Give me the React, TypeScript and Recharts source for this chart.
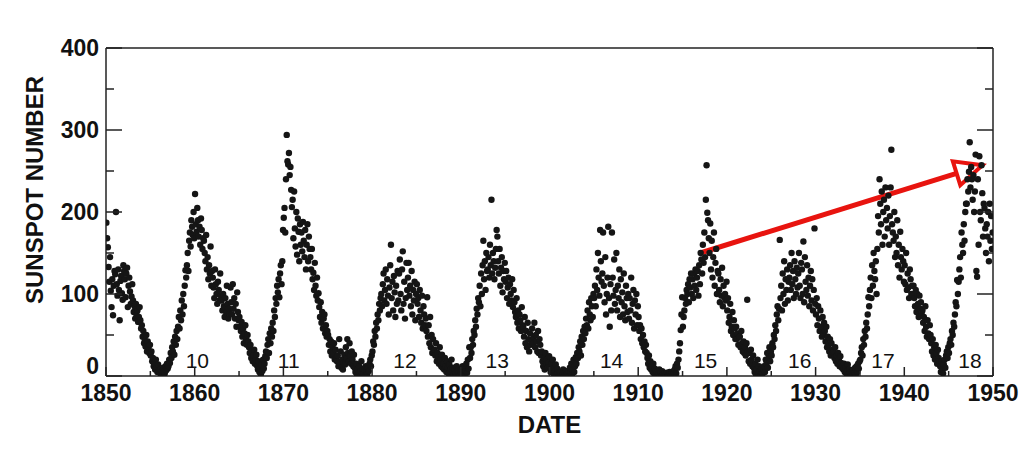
import React from 'react';
import { ScatterChart, Scatter, XAxis, YAxis, ReferenceLine } from 'recharts';

// Monthly sunspot numbers, one array per decade (12 values per year)
const ssn1850s = [
  187, 168, 157, 133, 115, 145, 104, 84, 118, 74, 110, 128,
  124, 200, 112, 98, 130, 105, 68, 116, 122, 101, 93, 135,
  128, 118, 96, 125, 132, 84, 110, 120, 103, 88, 97, 112,
  92, 78, 85, 70, 88, 74, 80, 66, 72, 84, 68, 58,
  62, 48, 55, 40, 44, 36, 50, 30, 42, 35, 28, 38,
  25, 30, 18, 22, 12, 15, 8, 20, 10, 5, 14, 6,
  4, 8, 2, 6, 0, 10, 5, 3, 12, 7, 15, 9,
  12, 20, 16, 28, 22, 35, 30, 42, 26, 48, 38, 55,
  45, 60, 72, 58, 80, 68, 92, 75, 100, 85, 110, 129,
  120, 135, 150, 128, 165, 175, 158, 190, 182, 172, 200, 168,
];
const ssn1860s = [
  222, 185, 176, 205, 190, 170, 182, 160, 192, 178, 155, 168,
  165, 150, 140, 172, 130, 145, 118, 135, 125, 158, 110, 128,
  120, 108, 95, 130, 112, 100, 88, 115, 105, 92, 125, 98,
  92, 80, 100, 85, 72, 95, 78, 110, 88, 70, 82, 76,
  108, 90, 75, 112, 82, 95, 70, 88, 60, 102, 78, 68,
  72, 60, 55, 66, 48, 58, 40, 52, 62, 45, 38, 50,
  42, 35, 28, 38, 22, 30, 18, 25, 32, 15, 20, 26,
  12, 8, 18, 5, 10, 2, 14, 6, 20, 9, 15, 24,
  30, 22, 38, 45, 28, 52, 40, 58, 48, 65, 55, 80,
  72, 95, 88, 110, 102, 118, 96, 125, 135, 112, 140, 178,
];
const ssn1870s = [
  193, 205, 175, 240, 294, 262, 258, 272, 245, 255, 227, 206,
  215, 168, 225, 180, 158, 200, 148, 192, 176, 140, 185, 160,
  175, 152, 188, 165, 145, 178, 130, 160, 185, 140, 170, 155,
  145, 130, 155, 118, 126, 105, 138, 110, 98, 120, 92, 101,
  84, 72, 90, 65, 78, 58, 70, 75, 52, 62, 48, 55,
  50, 38, 45, 30, 42, 25, 35, 28, 40, 20, 32, 22,
  18, 25, 12, 45, 15, 30, 10, 20, 8, 16, 26, 14,
  35, 22, 45, 28, 18, 40, 25, 15, 30, 20, 12, 26,
  10, 5, 15, 2, 8, 0, 12, 4, 6, 18, 3, 9,
  3, 8, 0, 12, 5, 2, 10, 6, 15, 20, 12, 25,
];
const ssn1880s = [
  30, 42, 38, 55, 48, 65, 58, 75, 68, 88, 80, 95,
  100, 85, 112, 125, 92, 105, 130, 88, 118, 98, 75, 108,
  135, 160, 95, 115, 80, 122, 102, 72, 110, 88, 128, 92,
  125, 142, 100, 80, 130, 152, 88, 115, 70, 95, 138, 105,
  120, 138, 98, 110, 85, 128, 75, 105, 92, 115, 68, 100,
  112, 88, 95, 72, 105, 80, 65, 98, 58, 85, 75, 62,
  70, 55, 96, 48, 62, 40, 72, 35, 50, 28, 45, 30,
  32, 25, 40, 18, 28, 22, 15, 35, 20, 12, 26, 10,
  15, 8, 22, 12, 5, 18, 10, 3, 14, 6, 9, 20,
  5, 10, 2, 8, 0, 4, 12, 6, 3, 9, 1, 7,
];
const ssn1890s = [
  3, 8, 12, 5, 0, 10, 6, 15, 4, 20, 9, 35,
  22, 35, 28, 45, 38, 55, 50, 68, 60, 82, 75, 95,
  90, 110, 85, 125, 100, 135, 165, 118, 140, 105, 150, 128,
  130, 145, 120, 160, 135, 215, 125, 150, 140, 118, 132, 155,
  178, 170, 140, 125, 155, 110, 132, 145, 102, 128, 118, 138,
  115, 128, 95, 108, 120, 88, 112, 100, 92, 118, 84, 105,
  90, 78, 72, 95, 65, 80, 58, 75, 68, 55, 84, 62,
  60, 48, 72, 40, 55, 35, 65, 45, 30, 52, 38, 42,
  58, 40, 48, 65, 35, 50, 42, 30, 55, 28, 45, 38,
  25, 30, 18, 12, 22, 8, 28, 15, 20, 10, 16, 24,
];
const ssn1900s = [
  12, 5, 15, 8, 20, 3, 10, 6, 14, 2, 9, 4,
  0, 3, 1, 5, 0, 2, 8, 0, 4, 1, 6, 2,
  3, 6, 0, 10, 4, 15, 2, 8, 20, 5, 12, 23,
  15, 28, 22, 35, 30, 42, 25, 48, 38, 55, 45, 60,
  52, 70, 62, 80, 58, 90, 75, 68, 95, 85, 72, 100,
  95, 110, 85, 130, 105, 150, 120, 98, 178, 140, 115, 125,
  175, 110, 90, 145, 75, 100, 120, 182, 95, 60, 112, 80,
  175, 120, 98, 142, 88, 105, 150, 80, 110, 95, 130, 72,
  118, 90, 102, 75, 125, 85, 68, 110, 95, 78, 100, 70,
  95, 80, 120, 65, 88, 105, 58, 92, 75, 100, 62, 85,
];
const ssn1910s = [
  72, 55, 62, 45, 58, 40, 50, 35, 42, 30, 38, 28,
  22, 15, 25, 10, 18, 8, 12, 5, 15, 3, 9, 6,
  2, 5, 0, 3, 8, 1, 4, 0, 6, 2, 0, 3,
  0, 2, 4, 0, 1, 0, 5, 2, 0, 3, 1, 6,
  4, 8, 12, 3, 15, 10, 20, 30, 40, 56, 75, 96,
  60, 72, 80, 95, 88, 105, 100, 112, 90, 118, 108, 125,
  100, 118, 95, 125, 110, 130, 105, 120, 128, 98, 135, 112,
  150, 142, 125, 160, 138, 175, 145, 215, 257, 199, 190, 168,
  150, 186, 130, 165, 120, 145, 175, 110, 138, 155, 100, 128,
  125, 105, 90, 118, 98, 132, 85, 110, 96, 100, 92, 115,
];
const ssn1920s = [
  80, 95, 65, 72, 88, 55, 60, 78, 50, 68, 58, 45,
  60, 45, 52, 38, 48, 48, 35, 55, 40, 30, 42, 28,
  35, 25, 40, 93, 30, 18, 28, 15, 32, 20, 12, 25,
  10, 5, 15, 2, 8, 20, 3, 12, 6, 0, 9, 4,
  3, 8, 12, 5, 20, 15, 28, 10, 22, 35, 18, 30,
  25, 40, 35, 50, 45, 62, 55, 75, 85, 68, 82, 166,
  95, 110, 80, 125, 100, 140, 88, 118, 105, 130, 92, 115,
  120, 135, 105, 150, 112, 128, 95, 140, 118, 100, 132, 108,
  125, 150, 110, 95, 138, 130, 100, 164, 90, 145, 115, 105,
  135, 98, 120, 85, 110, 128, 92, 118, 80, 105, 180, 88,
];
const ssn1930s = [
  75, 95, 62, 85, 70, 55, 80, 60, 48, 72, 52, 65,
  55, 42, 60, 35, 48, 38, 30, 45, 25, 40, 32, 28,
  30, 22, 35, 18, 25, 15, 28, 20, 12, 24, 16, 10,
  12, 8, 15, 5, 10, 3, 6, 14, 2, 8, 4, 1,
  3, 6, 1, 8, 4, 10, 2, 12, 5, 15, 9, 18,
  20, 28, 35, 25, 45, 38, 55, 48, 65, 58, 75, 96,
  85, 105, 120, 95, 135, 110, 150, 128, 118, 140, 100, 155,
  195, 175, 240, 210, 185, 225, 160, 200, 215, 170, 230, 190,
  205, 180, 220, 160, 195, 230, 276, 185, 175, 165, 200, 145,
  170, 150, 190, 135, 160, 120, 176, 145, 130, 155, 140, 115,
];
const ssn1940s = [
  135, 112, 150, 105, 125, 108, 95, 130, 118, 100, 110, 98,
  110, 95, 85, 105, 78, 100, 88, 72, 98, 82, 90, 75,
  80, 65, 72, 55, 85, 60, 48, 68, 52, 45, 62, 50,
  40, 30, 45, 25, 35, 20, 38, 28, 15, 32, 22, 18,
  12, 5, 18, 8, 3, 14, 20, 10, 25, 30, 22, 35,
  28, 40, 45, 38, 55, 50, 65, 60, 75, 90, 85, 117,
  100, 115, 130, 145, 120, 175, 160, 150, 185, 165, 200, 210,
  210, 240, 225, 249, 285, 230, 255, 240, 215, 245, 200, 225,
  270, 128, 121, 240, 160, 268, 200, 190, 257, 223, 170, 210,
  205, 180, 150, 185, 170, 200, 140, 210, 165, 195, 155, 175,
];

const decadeStarts = [1850, 1860, 1870, 1880, 1890, 1900, 1910, 1920, 1930, 1940];
const decades = [ssn1850s, ssn1860s, ssn1870s, ssn1880s, ssn1890s, ssn1900s, ssn1910s, ssn1920s, ssn1930s, ssn1940s];

// Solar cycle numbers written along the bottom
const cycleNumbers = ['10', '11', '12', '13', '14', '15', '16', '17', '18'];
const cycleDates = [1860.3, 1870.6, 1883.7, 1894.1, 1907.0, 1917.6, 1928.2, 1937.6, 1947.4];
const cycleLabelLevel = 19;

const xTicks = [1850, 1855, 1860, 1865, 1870, 1875, 1880, 1885, 1890, 1895, 1900, 1905, 1910, 1915, 1920, 1925, 1930, 1935, 1940, 1945, 1950];
const yTicks = [0, 50, 100, 150, 200, 250, 300, 350, 400];

// red trend arrow (date, sunspot number)
const arrowFrom = { x: 1917.0, y: 150 };
const arrowTo = { x: 1948.8, y: 257 };

const points = decades.flatMap((arr, d) =>
  arr.map((v, i) => ({ date: decadeStarts[d] + (i + 0.5) / 12, ssn: v }))
);
const cycleData = cycleNumbers.map((label, i) => ({ date: cycleDates[i], ssn: cycleLabelLevel, label }));

const W = 1024;
const H = 468;
const PLOT_LEFT = 106;
const PLOT_RIGHT = 993;
const PLOT_TOP = 48;
const PLOT_BOTTOM = 376;
const AXIS = '#222';
const RED = '#e8140f';
const FONT = '"Liberation Sans", Arial, Helvetica, sans-serif';

function BottomTick(props: any) {
  const { x, payload } = props;
  const major = payload.value % 10 === 0;
  return (
    <g>
      <line x1={x} x2={x} y1={PLOT_BOTTOM} y2={PLOT_BOTTOM - (major ? 9 : 5)} stroke={AXIS} strokeWidth={1.5} />
      {major && (
        <text x={x} y={PLOT_BOTTOM + 25} textAnchor="middle" fontFamily={FONT} fontWeight="bold" fontSize={23} fill="#111">
          {payload.value}
        </text>
      )}
    </g>
  );
}

function TopTick(props: any) {
  const { x, payload } = props;
  const major = payload.value % 10 === 0;
  return <line x1={x} x2={x} y1={PLOT_TOP} y2={PLOT_TOP + (major ? 9 : 5)} stroke={AXIS} strokeWidth={1.5} />;
}

function LeftTick(props: any) {
  const { y, payload } = props;
  const major = payload.value % 100 === 0;
  // the zero label sits above its tick, clear of the date labels
  const lift = payload.value === 0 ? 10 : 0;
  return (
    <g>
      <line x1={PLOT_LEFT} x2={PLOT_LEFT + (major ? 16 : 8)} y1={y} y2={y} stroke={AXIS} strokeWidth={1.5} />
      {major && (
        <text x={PLOT_LEFT - 7} y={y + 8 - lift} textAnchor="end" fontFamily={FONT} fontWeight="bold" fontSize={23} fill="#111">
          {payload.value}
        </text>
      )}
    </g>
  );
}

function RightTick(props: any) {
  const { y, payload } = props;
  const major = payload.value % 100 === 0;
  return <line x1={PLOT_RIGHT} x2={PLOT_RIGHT - (major ? 16 : 8)} y1={y} y2={y} stroke={AXIS} strokeWidth={1.5} />;
}

function XTitle() {
  return (
    <text x={(PLOT_LEFT + PLOT_RIGHT) / 2} y={PLOT_BOTTOM + 57} textAnchor="middle" fontFamily={FONT} fontWeight="bold" fontSize={24} fill="#111">
      DATE
    </text>
  );
}

function YTitle() {
  return (
    <text x={43} y={190} transform="rotate(-90, 43, 190)" textAnchor="middle" fontFamily={FONT} fontWeight="bold" fontSize={24} fill="#111">
      SUNSPOT NUMBER
    </text>
  );
}

function Dot(props: any) {
  return <circle cx={props.cx} cy={props.cy} r={3.2} fill="#151515" />;
}

function CycleLabel(props: any) {
  return (
    <text x={props.cx} y={props.cy + 7.5} textAnchor="middle" fontFamily={FONT} fontSize={21} fill="#111">
      {props.payload.label}
    </text>
  );
}

function ArrowShape(props: any) {
  const { x1, y1, x2, y2 } = props;
  const dx = x2 - x1;
  const dy = y2 - y1;
  const len = Math.hypot(dx, dy) || 1;
  const ux = dx / len;
  const uy = dy / len;
  const headLen = 27;
  const half = 12.5;
  const bx = x2 - ux * headLen;
  const by = y2 - uy * headLen;
  const px = -uy;
  const py = ux;
  const pts = `${x2},${y2} ${bx + px * half},${by + py * half} ${bx - px * half},${by - py * half}`;
  return (
    <g>
      <line x1={x1} y1={y1} x2={bx} y2={by} stroke={RED} strokeWidth={5} />
      <polygon points={pts} fill="none" stroke={RED} strokeWidth={4} strokeLinejoin="miter" />
    </g>
  );
}

export default function App() {
  return (
    <div style={{ width: W, height: H, background: '#fff' }}>
      <style>{'body{margin:0;background:#fff}'}</style>
      <ScatterChart width={W} height={H} margin={{ top: 0, right: 0, bottom: 0, left: 0 }}>
        <XAxis
          dataKey="date"
          type="number"
          domain={[1850, 1950]}
          allowDataOverflow
          ticks={xTicks}
          interval={0}
          tick={BottomTick}
          tickLine={false}
          axisLine={{ stroke: AXIS, strokeWidth: 1.5 }}
          height={H - PLOT_BOTTOM}
          label={<XTitle />}
        />
        <XAxis
          xAxisId="top"
          orientation="top"
          type="number"
          domain={[1850, 1950]}
          allowDataOverflow
          ticks={xTicks}
          interval={0}
          tick={TopTick}
          tickLine={false}
          axisLine={{ stroke: AXIS, strokeWidth: 1.5 }}
          height={PLOT_TOP}
        />
        <YAxis
          dataKey="ssn"
          type="number"
          domain={[0, 400]}
          allowDataOverflow
          ticks={yTicks}
          interval={0}
          tick={LeftTick}
          tickLine={false}
          axisLine={{ stroke: AXIS, strokeWidth: 1.5 }}
          width={PLOT_LEFT}
          label={<YTitle />}
        />
        <YAxis
          yAxisId="right"
          orientation="right"
          type="number"
          domain={[0, 400]}
          allowDataOverflow
          ticks={yTicks}
          interval={0}
          tick={RightTick}
          tickLine={false}
          axisLine={{ stroke: AXIS, strokeWidth: 1.5 }}
          width={W - PLOT_RIGHT}
        />
        <Scatter data={points} shape={Dot} isAnimationActive={false} />
        <Scatter data={cycleData} shape={CycleLabel} isAnimationActive={false} />
        <ReferenceLine segment={[arrowFrom, arrowTo]} shape={ArrowShape} ifOverflow="visible" />
      </ScatterChart>
    </div>
  );
}
